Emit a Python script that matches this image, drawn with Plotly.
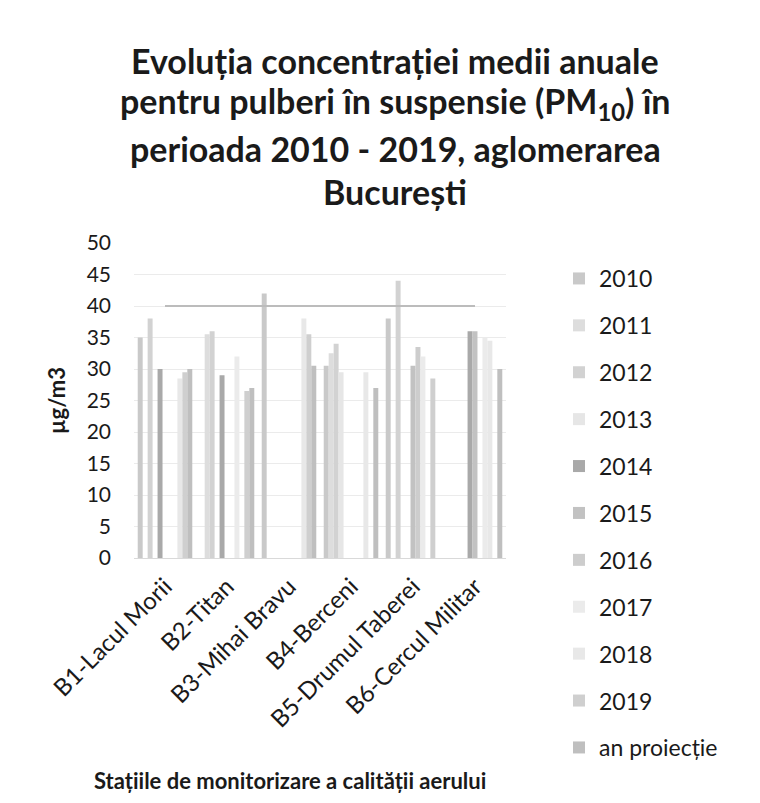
import plotly.graph_objects as go

# Monitoring stations (x categories)
stations = ["B1-Lacul Morii", "B2-Titan", "B3-Mihai Bravu",
            "B4-Berceni", "B5-Drumul Taberei", "B6-Cercul Militar"]

# Annual mean PM10 concentrations (µg/m3); None = no valid data that year
y2010 = [35.0, None, 42.0, 30.5, 38.0, None]
y2011 = [None, 35.5, None, 32.5, None, None]
y2012 = [38.0, 36.0, None, 34.0, 44.0, None]
y2013 = [None, None, None, 29.5, None, None]
y2014 = [30.0, 29.0, None, None, None, 36.0]
y2015 = [None, None, None, None, 30.5, 36.0]
y2016 = [None, None, None, None, 33.5, None]
y2017 = [None, 32.0, None, None, 32.0, 35.0]
y2018 = [28.5, None, 38.0, 29.5, None, 34.5]
y2019 = [29.5, 26.5, 35.5, None, 28.5, None]
an_proiectie = [30.0, 27.0, 30.5, 27.0, None, 30.0]

# Annual limit value for PM10
limit_value = [40, 40]

series_names = ["2010", "2011", "2012", "2013", "2014", "2015",
                "2016", "2017", "2018", "2019", "an proiecție"]
series_values = [y2010, y2011, y2012, y2013, y2014, y2015,
                 y2016, y2017, y2018, y2019, an_proiectie]
series_colors = ["#c9c9c9", "#dddddd", "#d2d2d2", "#e6e6e6", "#a9a9a9",
                 "#c2c2c2", "#cdcdcd", "#ebebeb", "#e8e8e8", "#cfcfcf",
                 "#bfbfbf"]

FONT = "Lato"
INK = "#1a1a1a"

fig = go.Figure()
for i, (name, vals, col) in enumerate(zip(series_names, series_values, series_colors)):
    fig.add_trace(go.Bar(
        x=stations, y=vals, name=name,
        marker=dict(color=col, line=dict(width=0)),
        legendgroup=name,
        legendrank=i,
    ))

fig.add_trace(go.Scatter(
    x=[stations[0], stations[-1]], y=limit_value,
    mode="lines", line=dict(color="#bcbcbc", width=2),
    showlegend=False, hoverinfo="skip",
))

title_lines = [
    "Evoluția concentrației medii anuale",
    "pentru pulberi în suspensie (PM<sub>10</sub>) în",
    "perioada 2010 - 2019, aglomerarea",
    "București",
]
title_y = [60, 103, 148, 192]
for txt, ypix in zip(title_lines, title_y):
    fig.add_annotation(
        text=f"<b>{txt}</b>", xref="paper", yref="paper",
        x=(395 - 134) / 372, y=(558 - ypix) / 315,
        xanchor="center", yanchor="middle", showarrow=False,
        font=dict(family=FONT, size=34, color=INK),
    )

fig.add_annotation(
    text="<b>Stațiile de monitorizare a calității aerului</b>",
    xref="paper", yref="paper",
    x=(290 - 134) / 372, y=(558 - 780) / 315,
    xanchor="center", yanchor="middle", showarrow=False,
    font=dict(family=FONT, size=22, color=INK),
)

fig.update_layout(
    width=760, height=803,
    margin=dict(l=134, r=254, t=243, b=245),
    paper_bgcolor="white", plot_bgcolor="white",
    barmode="group", bargap=0.12, bargroupgap=0.0,
    font=dict(family=FONT, size=19, color=INK),
    showlegend=True,
    legend=dict(
        x=(559 - 134) / 372, y=(558 - 257) / 315,
        xanchor="left", yanchor="top",
        font=dict(family=FONT, size=23, color=INK),
        tracegroupgap=14, bgcolor="rgba(0,0,0,0)",
        traceorder="grouped", maxheight=700,
    ),
    xaxis=dict(
        tickangle=-45, showgrid=False, showline=True,
        linecolor="#d9d9d9", linewidth=1, ticks="",
        ticklabelstandoff=4,
        tickfont=dict(family=FONT, size=24, color=INK),
    ),
    yaxis=dict(
        range=[0, 50], dtick=5, showgrid=True, gridcolor="#ebebeb",
        gridwidth=1, zeroline=False, showline=False, ticks="",
        ticklabelstandoff=22,
        tickfont=dict(family=FONT, size=21, color=INK),
        title=dict(text="<b>µg/m3</b>", standoff=14,
                   font=dict(family=FONT, size=22, color=INK)),
    ),
)

fig.write_html("out.html")
